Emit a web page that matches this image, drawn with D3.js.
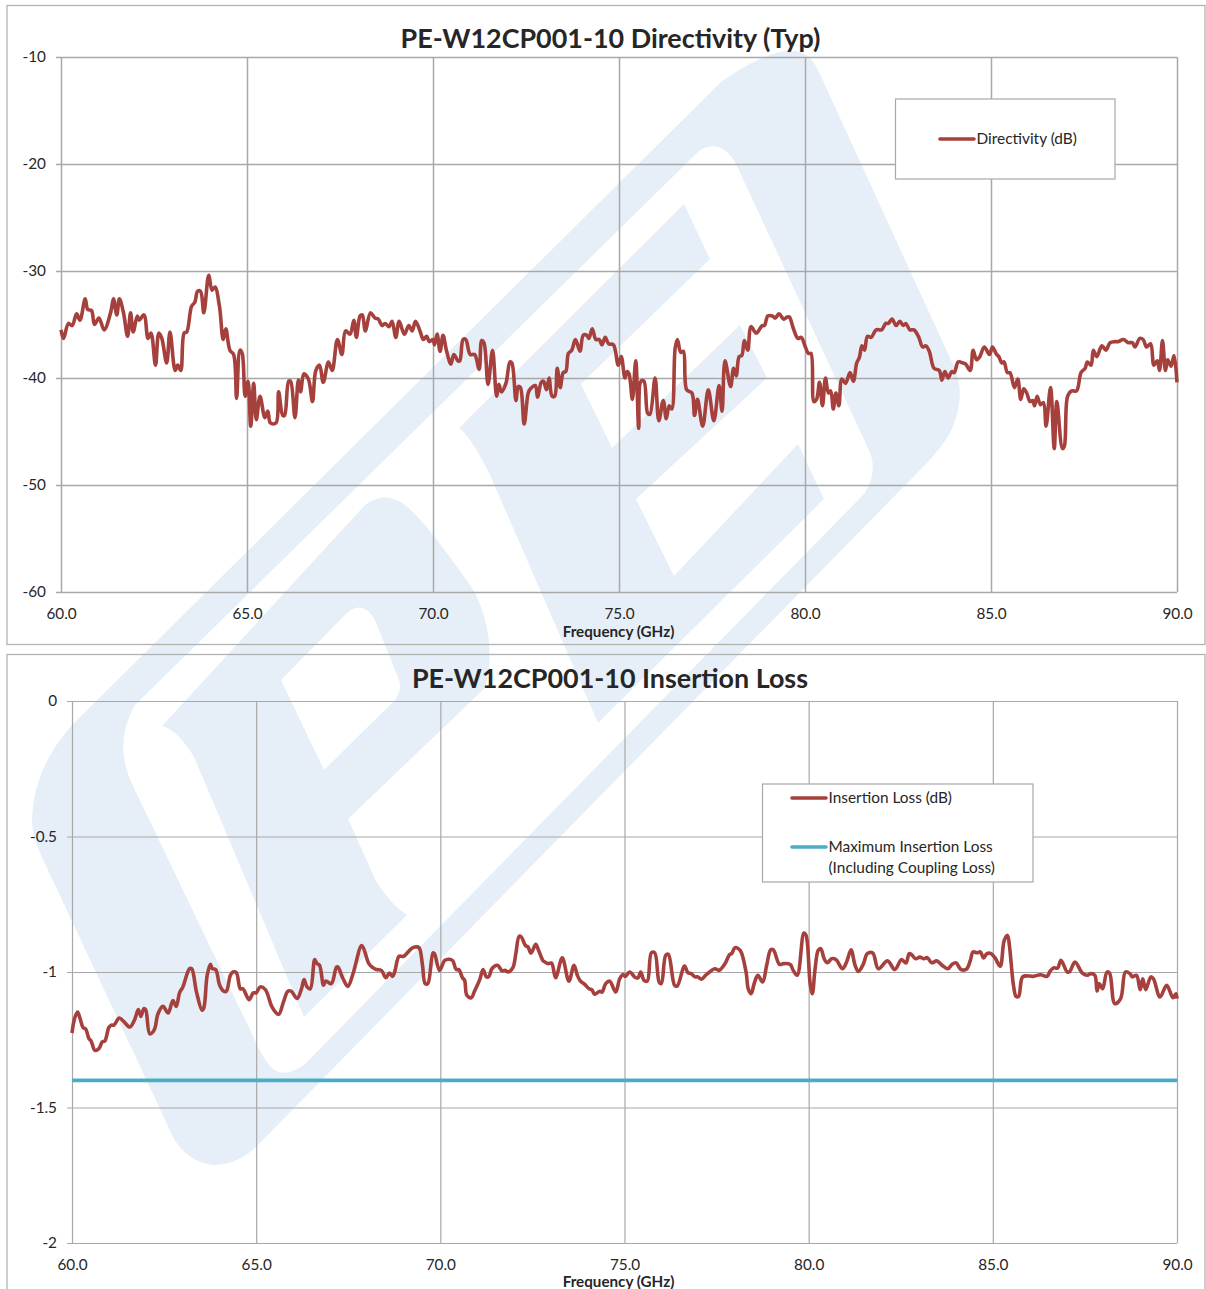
<!DOCTYPE html>
<html>
<head>
<meta charset="utf-8">
<script src="https://d3js.org/d3.v7.min.js"></script>
<style>
  html, body { margin: 0; padding: 0; background: #fff; overflow: hidden; }
  text { font-family: Lato, "Open Sans", sans-serif; fill: #262626; }
</style>
</head>
<body>
<div id="chart"></div>
<script>
// Directivity (top chart)
const dirFreq = [
  60.0,60.07,60.2,60.3,60.42,60.51,60.65,60.72,60.82,60.9,61.02,61.16,61.34,61.41,61.5,61.57,61.68,61.79,61.87,61.94,
  62.05,62.1,62.23,62.34,62.42,62.54,62.63,62.71,62.84,62.93,63.07,63.14,63.22,63.31,63.38,63.51,63.6,63.67,63.75,63.84,
  63.97,64.06,64.14,64.26,64.36,64.43,64.54,64.64,64.72,64.81,64.87,64.95,65.03,65.1,65.18,65.25,65.35,65.48,65.56,65.63,
  65.78,65.85,65.96,66.01,66.12,66.17,66.29,66.38,66.44,66.53,66.65,66.76,66.85,66.95,67.05,67.19,67.29,67.43,67.55,67.65,
  67.77,67.87,67.94,68.04,68.1,68.18,68.32,68.44,68.53,68.63,68.71,68.82,68.9,69.0,69.09,69.23,69.35,69.44,69.53,69.65,
  69.74,69.83,69.9,70.0,70.04,70.11,70.19,70.27,70.36,70.48,70.56,70.67,70.72,70.81,70.88,71.0,71.12,71.24,71.31,71.37,
  71.48,71.6,71.71,71.77,71.84,71.96,72.07,72.12,72.23,72.29,72.35,72.45,72.56,72.62,72.75,72.81,72.91,72.97,73.05,73.12,
  73.2,73.27,73.34,73.42,73.5,73.57,73.64,73.73,73.83,73.95,74.04,74.13,74.19,74.28,74.38,74.47,74.54,74.63,74.72,74.85,
  74.98,75.06,75.16,75.22,75.27,75.36,75.45,75.53,75.59,75.67,75.77,75.83,75.97,76.07,76.19,76.27,76.35,76.42,76.51,76.57,
  76.66,76.73,76.82,76.96,77.03,77.11,77.25,77.4,77.55,77.69,77.77,77.85,78.0,78.08,78.15,78.23,78.3,78.37,78.46,78.55,
  78.69,78.85,78.91,79.0,79.12,79.2,79.3,79.43,79.52,79.58,79.68,79.81,79.9,80.0,80.09,80.16,80.24,80.31,80.39,80.47,
  80.55,80.63,80.69,80.76,80.83,80.91,80.99,81.09,81.21,81.3,81.39,81.46,81.53,81.6,81.68,81.78,81.91,82.06,82.17,82.24,
  82.34,82.45,82.55,82.64,82.71,82.82,82.93,83.06,83.16,83.25,83.34,83.47,83.61,83.68,83.76,83.85,83.94,84.01,84.12,84.25,
  84.32,84.44,84.52,84.61,84.7,84.82,84.96,85.04,85.15,85.21,85.29,85.35,85.44,85.51,85.63,85.72,85.8,85.88,85.96,86.05,
  86.12,86.17,86.24,86.33,86.41,86.48,86.6,86.7,86.77,86.92,86.97,87.06,87.17,87.3,87.42,87.53,87.59,87.69,87.75,87.84,
  87.98,88.09,88.2,88.33,88.42,88.56,88.69,88.8,88.87,89.0,89.09,89.18,89.29,89.38,89.47,89.53,89.61,89.69,89.75,89.84,
  89.92,90.0
];
const dirVal = [
  -35.5,-36.3,-34.9,-35.1,-34.0,-34.6,-32.6,-33.6,-33.7,-35.0,-34.4,-35.5,-33.8,-32.6,-34.1,-32.6,-33.9,-36.1,-33.9,-35.7,
  -34.2,-34.6,-34.1,-36.3,-35.8,-38.8,-35.8,-36.3,-38.6,-35.7,-39.3,-38.8,-39.3,-35.8,-35.7,-33.3,-32.9,-31.9,-31.9,-33.9,
  -30.4,-31.8,-31.5,-33.3,-36.4,-35.4,-37.4,-37.8,-41.9,-37.4,-37.7,-41.7,-40.3,-44.5,-40.5,-43.9,-41.7,-43.7,-43.1,-44.2,
  -44.2,-41.3,-43.5,-43.5,-40.3,-40.3,-43.7,-40.2,-41.3,-39.6,-40.1,-42.2,-39.3,-38.8,-40.4,-38.5,-39.3,-36.4,-37.8,-35.6,
  -35.9,-34.6,-36.2,-34.2,-34.1,-35.6,-33.9,-34.4,-34.5,-35.1,-34.9,-35.2,-34.7,-36.2,-34.7,-35.9,-35.1,-35.6,-34.7,-35.6,
  -36.4,-36.1,-36.6,-36.4,-36.9,-35.9,-37.5,-36.0,-37.4,-38.7,-37.8,-38.4,-38.4,-36.4,-36.4,-37.8,-37.8,-39.2,-36.5,-36.7,
  -40.6,-37.4,-41.7,-40.6,-41.3,-40.5,-38.5,-38.6,-42.1,-40.8,-40.9,-44.3,-41.4,-41.0,-40.7,-41.8,-40.4,-40.3,-41.1,-40.0,
  -41.7,-41.7,-39.1,-40.9,-39.5,-39.4,-37.7,-37.4,-36.4,-37.5,-36.0,-36.0,-36.3,-35.4,-36.4,-36.4,-36.9,-36.2,-36.8,-36.9,
  -38.8,-38.0,-40.0,-39.4,-39.6,-42.0,-38.4,-44.7,-40.3,-40.3,-43.3,-43.4,-40.0,-44.0,-42.1,-43.8,-42.6,-42.9,-37.2,-36.4,
  -37.6,-37.5,-41.1,-41.4,-43.5,-42.0,-44.5,-41.1,-44.0,-40.7,-43.1,-38.4,-40.8,-39.1,-39.8,-38.0,-37.9,-36.5,-37.4,-35.2,
  -35.8,-35.1,-35.1,-34.2,-34.2,-34.4,-34.0,-34.5,-34.3,-34.3,-35.3,-36.3,-36.2,-37.0,-37.7,-37.7,-42.2,-42.0,-40.4,-42.6,
  -40.0,-41.4,-41.2,-42.9,-41.4,-42.6,-40.1,-40.5,-39.5,-40.3,-38.6,-38.1,-37.0,-37.4,-36.1,-36.2,-35.5,-35.5,-34.9,-34.9,
  -34.5,-35.1,-34.7,-35.1,-34.9,-35.5,-35.5,-36.2,-37.1,-37.0,-37.5,-39.1,-39.3,-40.2,-39.4,-40.0,-39.4,-39.5,-38.5,-38.6,
  -38.7,-39.3,-37.4,-38.3,-38.0,-37.1,-37.8,-37.1,-37.8,-38.0,-38.6,-38.5,-39.5,-39.5,-40.9,-40.1,-42.0,-41.0,-41.4,-42.2,
  -42.1,-42.6,-41.7,-42.5,-42.3,-44.5,-40.9,-46.6,-42.2,-46.6,-46.4,-41.7,-41.2,-41.2,-39.5,-39.1,-38.5,-38.8,-37.4,-38.0,
  -37.0,-37.4,-36.7,-36.6,-36.6,-36.4,-36.7,-36.7,-37.1,-36.3,-36.4,-37.1,-36.8,-38.8,-38.4,-39.3,-36.5,-39.3,-38.3,-38.9,
  -37.9,-40.4
];

// Insertion loss (bottom chart)
const lossFreq = [
  60.0,60.07,60.15,60.22,60.3,60.37,60.46,60.52,60.62,60.73,60.82,60.89,61.0,61.07,61.14,61.28,61.4,61.57,61.7,61.8,
  61.87,61.95,62.0,62.11,62.2,62.26,62.33,62.47,62.61,62.74,62.83,62.92,63.01,63.19,63.25,63.38,63.53,63.58,63.67,63.76,
  63.81,63.9,64.01,64.12,64.19,64.3,64.37,64.46,64.57,64.64,64.81,64.92,65.0,65.11,65.25,65.32,65.43,65.61,65.74,65.86,
  65.95,66.11,66.23,66.3,66.38,66.47,66.59,66.65,66.72,66.83,66.89,67.04,67.18,67.22,67.36,67.49,67.63,67.86,67.92,68.06,
  68.17,68.26,68.4,68.52,68.62,68.7,68.76,68.88,69.0,69.21,69.3,69.42,69.51,69.59,69.66,69.8,69.84,69.98,70.12,70.25,
  70.34,70.43,70.5,70.6,70.66,70.72,70.84,70.93,71.07,71.16,71.25,71.32,71.4,71.55,71.68,71.76,71.84,71.97,72.05,72.14,
  72.2,72.31,72.38,72.46,72.59,72.65,72.79,72.84,72.93,73.02,73.13,73.31,73.49,73.63,73.72,73.8,73.92,74.04,74.11,74.19,
  74.33,74.39,74.49,74.6,74.76,74.87,74.96,75.02,75.14,75.3,75.37,75.44,75.53,75.62,75.73,75.82,75.94,76.0,76.12,76.19,
  76.36,76.43,76.63,76.72,76.81,76.92,76.99,77.09,77.22,77.45,77.57,77.73,77.85,77.91,78.0,78.14,78.3,78.36,78.44,78.52,
  78.62,78.75,78.86,78.97,79.04,79.21,79.32,79.5,79.58,79.69,79.87,79.93,80.04,80.1,80.17,80.26,80.33,80.42,80.51,80.62,
  80.74,80.92,81.03,81.15,81.26,81.35,81.49,81.59,81.74,81.89,82.14,82.34,82.52,82.64,82.73,82.79,82.9,83.02,83.13,83.22,
  83.34,83.48,83.62,83.78,83.89,84.0,84.13,84.28,84.39,84.46,84.57,84.66,84.75,84.84,84.95,85.06,85.2,85.31,85.4,85.45,
  85.56,85.63,85.7,85.81,86.0,86.1,86.29,86.47,86.56,86.65,86.76,86.85,87.02,87.09,87.23,87.43,87.57,87.66,87.77,87.83,
  87.89,87.98,88.1,88.17,88.31,88.47,88.6,88.72,88.79,88.9,89.0,89.07,89.15,89.29,89.36,89.54,89.72,89.89,89.97,90.0
];
const lossVal = [
  -1.225,-1.172,-1.148,-1.172,-1.205,-1.21,-1.246,-1.255,-1.289,-1.283,-1.258,-1.255,-1.205,-1.196,-1.196,-1.17,-1.182,-1.203,-1.176,-1.139,
  -1.164,-1.135,-1.139,-1.228,-1.221,-1.203,-1.156,-1.127,-1.151,-1.105,-1.127,-1.077,-1.055,-0.988,-0.988,-1.074,-1.141,-1.132,-1.012,-0.972,
  -0.988,-0.991,-1.049,-1.071,-1.071,-1.012,-1.0,-1.002,-1.062,-1.062,-1.102,-1.077,-1.077,-1.055,-1.065,-1.086,-1.129,-1.156,-1.111,-1.071,
  -1.071,-1.098,-1.062,-1.028,-1.055,-1.062,-0.954,-0.969,-0.975,-1.049,-1.033,-1.043,-0.982,-0.982,-1.025,-1.053,-1.006,-0.902,-0.914,-0.969,
  -0.984,-0.991,-0.994,-1.021,-1.004,-1.016,-1.0,-0.942,-0.942,-0.914,-0.908,-0.91,-0.969,-1.043,-1.043,-0.929,-0.932,-0.994,-0.957,-0.953,
  -0.959,-0.991,-0.991,-1.021,-1.031,-1.086,-1.095,-1.07,-1.028,-0.991,-1.018,-1.016,-0.988,-0.975,-0.996,-0.994,-1.0,-0.984,-0.932,-0.868,
  -0.871,-0.902,-0.908,-0.93,-0.898,-0.914,-0.959,-0.963,-0.969,-0.967,-1.021,-0.948,-1.034,-0.975,-1.012,-1.033,-1.046,-1.062,-1.065,-1.082,
  -1.071,-1.074,-1.043,-1.034,-1.074,-1.025,-1.009,-1.016,-1.0,-1.021,-1.021,-1.0,-1.031,-1.033,-0.929,-0.929,-1.037,-1.043,-0.938,-0.935,
  -1.049,-1.052,-0.978,-1.002,-1.006,-1.018,-1.018,-1.027,-1.01,-0.988,-0.994,-0.969,-0.936,-0.932,-0.91,-0.92,-1.0,-1.062,-1.08,-1.043,
  -1.012,-1.037,-0.975,-0.918,-0.918,-0.972,-0.969,-0.972,-0.994,-1.012,-0.856,-0.865,-1.043,-1.08,-0.994,-0.92,-0.914,-0.951,-0.966,-0.951,
  -0.954,-0.988,-0.963,-0.918,-0.975,-0.998,-0.969,-0.932,-0.93,-0.988,-0.959,-0.991,-0.954,-0.967,-0.932,-0.935,-0.951,-0.945,-0.951,-0.947,
  -0.966,-0.959,-0.975,-0.988,-0.972,-0.966,-0.99,-0.99,-0.957,-0.926,-0.929,-0.926,-0.948,-0.932,-0.932,-0.948,-0.979,-0.883,-0.865,-0.902,
  -1.049,-1.09,-1.09,-1.018,-1.015,-1.016,-1.01,-1.016,-0.996,-0.985,-0.985,-0.957,-1.0,-0.998,-0.963,-1.004,-1.012,-1.006,-1.012,-1.07,
  -1.043,-1.062,-1.0,-1.004,-1.117,-1.098,-1.0,-1.006,-1.018,-1.012,-1.065,-1.025,-1.065,-1.018,-1.025,-1.092,-1.049,-1.095,-1.08,-1.098
];

// Limit line
const limitFreq = [60, 90];
const limitVal = [-1.4, -1.4];

const freqTicks = [60, 65, 70, 75, 80, 85, 90];
const dirTicks = [-10, -20, -30, -40, -50, -60];
const lossTicks = [0, -0.5, -1, -1.5, -2];

const RED = '#a5403d';
const TEAL = '#4bacc6';
const GRID = '#a8a8a8';
const WATERMARK = '#e6eff7';

const svg = d3.select('#chart').append('svg')
    .attr('width', 1206)
    .attr('height', 1289)
    .style('display', 'block');

// Background logo
const logo = svg.append('g');
logo.append('path').attr('fill', WATERMARK).attr('d',
    'M71,726 L722,81 Q775,45 800,52 Q812,56 819,72 L956,371 Q966,400 950,433 Q940,450 922,468 ' +
    'L257,1146 Q237,1165 213,1165 Q188,1162 174,1139 L40,853 Q32,835 32,819 Q33,770 71,726 Z');
logo.append('path').attr('fill', '#fff').attr('d',
    'M135,705 L700,150 Q722,138 736,164 L867,446 Q880,470 864,494 L304,1065 Q285,1078 273,1069 Q262,1058 253,1036 ' +
    'L134,788 Q112,745 135,705 Z');
logo.append('path').attr('fill', WATERMARK).attr('fill-rule', 'evenodd').attr('d',
    'M162,726 L365,505 Q385,490 405,505 Q425,520 474,591 Q498,640 485,688 L348,819 L376,881 Q391,905 407,915 ' +
    'L304,1017 L194,757 Q178,730 162,726 Z ' +
    'M281,680 L345,615 Q362,598 375,620 L399,680 Q402,690 395,700 L324,770 Z');
logo.append('path').attr('fill', WATERMARK).attr('d',
    'M684,204 L459,428 Q472,438 490,475 L598,723 L824,499 L798,444 L674,576 L636,499 L767,378 L740,325 L612,448 ' +
    'L581,384 L710,259 Z');

function drawChart(cfg) {
    const { left, right, top, bottom, panel } = cfg;

    // Panel border
    svg.append('rect')
        .attr('x', panel.x).attr('y', panel.y)
        .attr('width', panel.w).attr('height', panel.h)
        .attr('fill', 'none')
        .attr('stroke', '#b2b2b2')
        .attr('stroke-width', 1.3);

    const x = d3.scaleLinear().domain([60, 90]).range([left, right]);
    const y = d3.scaleLinear().domain(cfg.yDomain).range([bottom, top]);

    // X axis + vertical grid
    const gx = svg.append('g')
        .attr('transform', `translate(0,${bottom})`)
        .call(d3.axisBottom(x)
            .tickValues(freqTicks)
            .tickFormat(d3.format('.1f'))
            .tickSize(-(bottom - top))
            .tickPadding(cfg.xPad));
    gx.select('.domain').remove();
    gx.selectAll('line').attr('stroke', GRID).attr('stroke-width', cfg.gridW);
    gx.selectAll('text').attr('font-size', 15.3).attr('fill', '#262626').style('font-family', 'Lato');

    // Y axis + horizontal grid
    const gy = svg.append('g')
        .attr('transform', `translate(${left},0)`)
        .call(d3.axisLeft(y)
            .tickValues(cfg.yTicks)
            .tickFormat(d => d)
            .tickSize(-(right - left))
            .tickPadding(cfg.yPad));
    gy.select('.domain').remove();
    gy.selectAll('line').attr('x1', -5).attr('stroke', GRID).attr('stroke-width', cfg.gridW);
    gy.selectAll('text').attr('font-size', 15.3).attr('fill', '#262626').style('font-family', 'Lato');

    // Title and x label
    svg.append('text')
        .attr('x', cfg.titleX).attr('y', cfg.titleY)
        .attr('text-anchor', 'middle')
        .attr('font-size', 26.9)
        .attr('font-weight', 700)
        .text(cfg.title);
    svg.append('text')
        .attr('x', 618.5).attr('y', cfg.xLabelY)
        .attr('text-anchor', 'middle')
        .attr('font-size', 15.2)
        .attr('font-weight', 700)
        .text('Frequency (GHz)');

    // Series
    const line = d3.line()
        .x(d => x(d[0]))
        .y(d => y(d[1]))
        .curve(d3.curveCatmullRom.alpha(0.5));
    cfg.series.forEach(s => {
        svg.append('path')
            .datum(d3.zip(s.freq, s.val))
            .attr('fill', 'none')
            .attr('stroke', s.color)
            .attr('stroke-width', 3.6)
            .attr('stroke-linejoin', 'round')
            .attr('d', s.straight ? d3.line().x(d => x(d[0])).y(d => y(d[1])) : line);
    });

    // Legend
    const lg = cfg.legend;
    svg.append('rect')
        .attr('x', lg.x).attr('y', lg.y)
        .attr('width', lg.w).attr('height', lg.h)
        .attr('fill', '#fff')
        .attr('stroke', '#a8a8a8')
        .attr('stroke-width', 1.2);
    lg.items.forEach(it => {
        svg.append('line')
            .attr('x1', lg.lineX).attr('x2', lg.lineX + 34)
            .attr('y1', it.y).attr('y2', it.y)
            .attr('stroke', it.color)
            .attr('stroke-width', 3.6)
            .attr('stroke-linecap', 'round');
        it.text.forEach((t, i) => {
            svg.append('text')
                .attr('x', lg.lineX + 36.5)
                .attr('y', it.y + 5 + i * 20.5)
                .attr('font-size', 15.4)
                .text(t);
        });
    });
}

drawChart({
    panel: { x: 7, y: 5.5, w: 1198, h: 639 },
    left: 61, right: 1177, top: 57, bottom: 592,
    yDomain: [-60, -10], yTicks: dirTicks,
    gridW: 1.5, xPad: 16.5, yPad: 15,
    title: 'PE-W12CP001-10 Directivity (Typ)', titleX: 610.5, titleY: 48, xLabelY: 637,
    series: [{ freq: dirFreq, val: dirVal, color: RED }],
    legend: {
        x: 895.5, y: 99, w: 219.5, h: 80, lineX: 940,
        items: [{ y: 139, color: RED, text: ['Directivity (dB)'] }]
    }
});

drawChart({
    panel: { x: 7, y: 654.5, w: 1198, h: 660 },
    left: 72, right: 1177, top: 701, bottom: 1243,
    yDomain: [-2, 0], yTicks: lossTicks,
    gridW: 1.2, xPad: 16, yPad: 15,
    title: 'PE-W12CP001-10 Insertion Loss', titleX: 610, titleY: 688, xLabelY: 1287,
    series: [
        { freq: lossFreq, val: lossVal, color: RED },
        { freq: limitFreq, val: limitVal, color: TEAL, straight: true }
    ],
    legend: {
        x: 762.5, y: 784, w: 270.5, h: 98, lineX: 792,
        items: [
            { y: 798, color: RED, text: ['Insertion Loss (dB)'] },
            { y: 847, color: TEAL, text: ['Maximum Insertion Loss', '(Including Coupling Loss)'] }
        ]
    }
});
</script>
</body>
</html>
